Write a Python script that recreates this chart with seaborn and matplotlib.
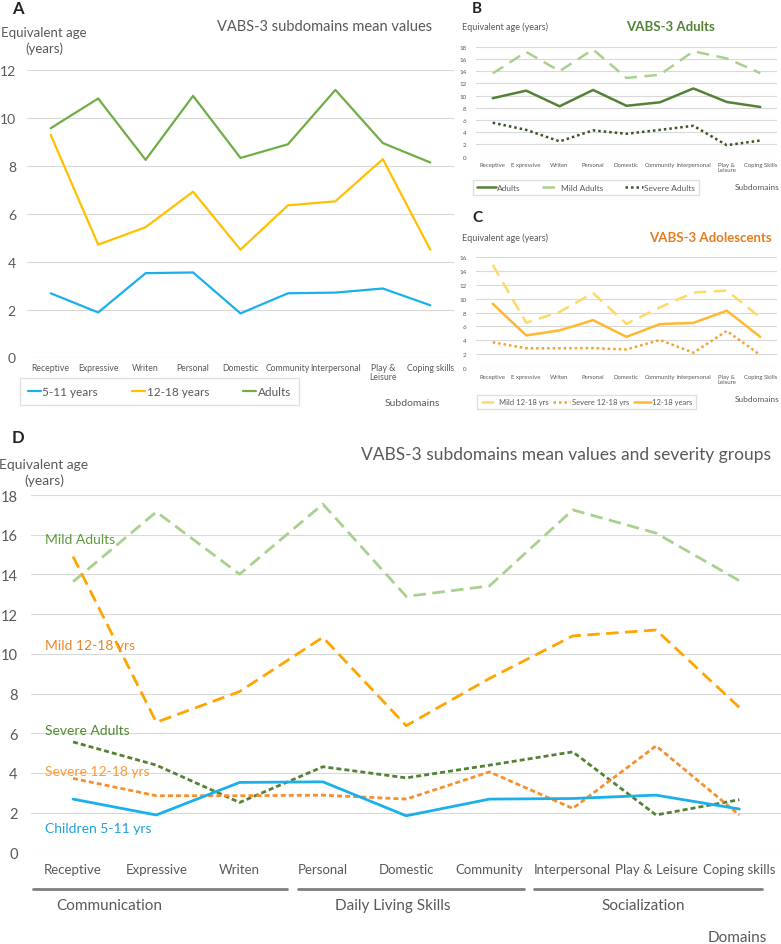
import matplotlib
matplotlib.use("Agg")
import matplotlib.pyplot as plt
import matplotlib.transforms as mtransforms
import numpy as np
import pandas as pd
import seaborn as sns

sns.set_style("white")
plt.rcParams["font.family"] = ["Lato", "DejaVu Sans"]

subdomains = ["Receptive", "Expressive", "Writen", "Personal", "Domestic",
              "Community", "Interpersonal", "Play & Leisure", "Coping skills"]
labels_a = ["Receptive", "Expressive", "Writen", "Personal", "Domestic",
            "Community", "Interpersonal", "Play &\nLeisure", "Coping skills"]
labels_bc = ["Receptive", "E xpressive", "Writen", "Personal", "Domestic",
             "Community", "Interpersonal", "Play &\nLeisure", "Coping Skills"]
domains = ["Communication", "Daily Living Skills", "Socialization"]

children = [2.68, 1.88, 3.52, 3.55, 1.84, 2.68, 2.71, 2.88, 2.18]
adolescents = [9.29, 4.71, 5.44, 6.92, 4.50, 6.35, 6.52, 8.28, 4.50]
adults = [9.57, 10.81, 8.25, 10.92, 8.33, 8.90, 11.17, 8.95, 8.14]
mild_adults = [13.63, 17.15, 14.01, 17.54, 12.89, 13.42, 17.25, 16.08, 13.68]
severe_adults = [5.56, 4.39, 2.51, 4.31, 3.75, 4.39, 5.06, 1.88, 2.65]
mild_adol = [14.90, 6.55, 8.10, 10.83, 6.38, 8.76, 10.90, 11.20, 7.30]
severe_adol = [3.72, 2.85, 2.85, 2.88, 2.68, 4.05, 2.21, 5.36, 1.88]

series = {
    "children": children, "adolescents": adolescents, "adults": adults,
    "mild_adults": mild_adults, "severe_adults": severe_adults,
    "mild_adol": mild_adol, "severe_adol": severe_adol,
}
rows = []
for g, vals in series.items():
    for s, v in zip(subdomains, vals):
        rows.append([g, s, v])
df = pd.DataFrame(rows, columns=["group", "subdomain", "value"])

W, H = 781, 945
fig = plt.figure(figsize=(W / 100, H / 100), dpi=100)

def box(l, r, t, b):
    return [l / W, 1 - b / H, (r - l) / W, (b - t) / H]

def ftext(x, y, s, **kw):
    fig.text(x / W, 1 - y / H, s, va="center", **kw)

GRID = "#d9d9d9"
TXT = "#595959"

def line(ax, g, color, lw, ls="-", label=None):
    sns.lineplot(data=df[df.group == g], x="subdomain", y="value", ax=ax,
                 color=color, lw=lw, linestyle=ls, sort=False, errorbar=None,
                 label=label, legend=False)

def style_ax(ax, ymax, step, xlabels, xfs, yfs):
    ax.set_xlim(-0.5, 8.5)
    ax.set_ylim(0, ymax)
    ax.set_yticks(np.arange(0, ymax + 0.1, step))
    ax.set_xticks(range(9))
    ax.set_xticklabels(xlabels, fontsize=xfs, color=TXT)
    ax.tick_params(axis="y", labelsize=yfs, labelcolor=TXT, length=0, pad=8)
    ax.tick_params(axis="x", length=0, pad=4)
    ax.grid(axis="y", color=GRID, lw=0.8)
    ax.set_axisbelow(True)
    for sp in ax.spines.values():
        sp.set_visible(False)
    ax.set_xlabel("")
    ax.set_ylabel("")

# ---- A
axA = fig.add_axes(box(27, 454, 71, 358.5))
line(axA, "children", "#1ab0ec", 1.6, label="5-11 years")
line(axA, "adolescents", "#ffc000", 1.6, label="12-18 years")
line(axA, "adults", "#70ad47", 1.6, label="Adults")
style_ax(axA, 12, 2, labels_a, 6.2, 10)
for t in axA.get_xticklabels():
    t.set_linespacing(1.0)
h, l = axA.get_legend_handles_labels()
axA.legend(h, l, loc="lower left", bbox_to_anchor=(14 / W, 1 - 412 / H, 291 / W, 26 / H),
           bbox_transform=fig.transFigure, mode="expand", ncol=3, fontsize=8.5,
           frameon=True, fancybox=False, edgecolor=GRID, handlelength=1.1,
           handletextpad=0.1, labelcolor=TXT, borderpad=0.7)
ftext(12, 9, "A", fontsize=12, fontweight="bold", color="#222222")
ftext(44, 41, "Equivalent age\n(years)", fontsize=9.5, color=TXT, ha="center", linespacing=1.4)
ftext(325, 27, "VABS-3 subdomains mean values", fontsize=10.5, color=TXT, ha="center")
ftext(385, 404, "Subdomains", fontsize=7.5, color=TXT)

# ---- B
axB = fig.add_axes(box(476, 777, 47.7, 157.7))
line(axB, "adults", "#548235", 1.8, label="Adults")
line(axB, "mild_adults", "#a9d18e", 1.8, (0, (5, 3)), label="Mild Adults")
line(axB, "severe_adults", "#375623", 1.8, (0, (1, 1.2)), label="Severe Adults")
style_ax(axB, 18, 2, labels_bc, 4.3, 4.5)
axB.tick_params(axis="y", pad=7)
for t in axB.get_xticklabels():
    t.set_linespacing(1.0)
h, l = axB.get_legend_handles_labels()
axB.legend(h, l, loc="lower left", bbox_to_anchor=(469 / W, 1 - 200 / H, 234 / W, 17 / H),
           bbox_transform=fig.transFigure, mode="expand", ncol=3, fontsize=6,
           frameon=True, fancybox=False, edgecolor=GRID, handlelength=2.2,
           handletextpad=0.1, labelcolor=TXT, borderpad=0.5)
ftext(472, 9, "B", fontsize=11, fontweight="bold", color="#222222")
ftext(462, 27, "Equivalent age (years)", fontsize=6.5, color=TXT)
ftext(670, 27, "VABS-3 Adults", fontsize=9.5, fontweight="bold", color="#548235", ha="center")
ftext(735, 188, "Subdomains", fontsize=6, color=TXT)

# ---- C
axC = fig.add_axes(box(476, 777, 258.3, 369))
line(axC, "mild_adol", "#ffd966", 1.8, (0, (5, 3)), label="Mild 12-18 yrs")
line(axC, "severe_adol", "#f5a030", 1.8, (0, (1, 1.2)), label="Severe 12-18 yrs")
line(axC, "adolescents", "#ffb830", 1.8, label="12-18 years")
style_ax(axC, 16, 2, labels_bc, 4.3, 4.5)
axC.tick_params(axis="y", pad=7)
for t in axC.get_xticklabels():
    t.set_linespacing(1.0)
h, l = axC.get_legend_handles_labels()
axC.legend(h, l, loc="lower left", bbox_to_anchor=(473 / W, 1 - 414 / H, 227 / W, 17 / H),
           bbox_transform=fig.transFigure, mode="expand", ncol=3, fontsize=5.5,
           frameon=True, fancybox=False, edgecolor=GRID, handlelength=2.2,
           handletextpad=0.2, labelcolor=TXT, borderpad=0.5)
ftext(472, 218, "C", fontsize=11, fontweight="bold", color="#222222")
ftext(462, 238, "Equivalent age (years)", fontsize=6.5, color=TXT)
ftext(710, 238, "VABS-3 Adolescents", fontsize=9.5, fontweight="bold", color="#e57c1f", ha="center")
ftext(735, 400, "Subdomains", fontsize=6, color=TXT)

# ---- D
axD = fig.add_axes(box(31.4, 781, 496, 853.3))
line(axD, "mild_adults", "#a9d18e", 2.0, (0, (4.5, 2.3)))
line(axD, "mild_adol", "#ffa500", 2.0, (0, (4.5, 2.3)))
line(axD, "severe_adults", "#548235", 2.0, (0, (1.8, 1.1)))
line(axD, "severe_adol", "#f7902c", 2.0, (0, (1.8, 1.1)))
line(axD, "children", "#1ab0ec", 2.0)
style_ax(axD, 18, 2, subdomains, 9.5, 10.5)
axD.tick_params(axis="x", pad=8)
axD.tick_params(axis="y", pad=10)

trans = mtransforms.blended_transform_factory(axD.transData, axD.transAxes)
spans = [(-0.48, 2.57), (2.70, 5.42), (5.54, 8.27)]
centers = [0.44, 3.84, 6.84]
for (x0, x1), c, name in zip(spans, centers, domains):
    axD.plot([x0, x1], [-0.103, -0.103], transform=trans, color="#7f7f7f", lw=2, clip_on=False)
    axD.text(c, -0.148, name, transform=trans, ha="center", va="center", fontsize=11, color=TXT)

ftext(12, 438, "D", fontsize=12, fontweight="bold", color="#222222")
ftext(44, 473, "Equivalent age\n(years)", fontsize=10, color=TXT, ha="center", linespacing=1.3)
ftext(566, 455, "VABS-3 subdomains mean values and severity groups", fontsize=12.5, color=TXT, ha="center")
ftext(737, 938, "Domains", fontsize=11, color=TXT, ha="center")

ftext(45, 540, "Mild Adults", fontsize=10, color="#5c9a3c")
ftext(45, 646, "Mild 12-18 yrs", fontsize=10, color="#e8862a")
ftext(45, 731, "Severe Adults", fontsize=10, color="#4e8a2e")
ftext(45, 772, "Severe 12-18 yrs", fontsize=10, color="#f59a3a")
ftext(45, 829, "Children 5-11 yrs", fontsize=10, color="#1ea0dc")

fig.savefig("out.png", dpi=100)
